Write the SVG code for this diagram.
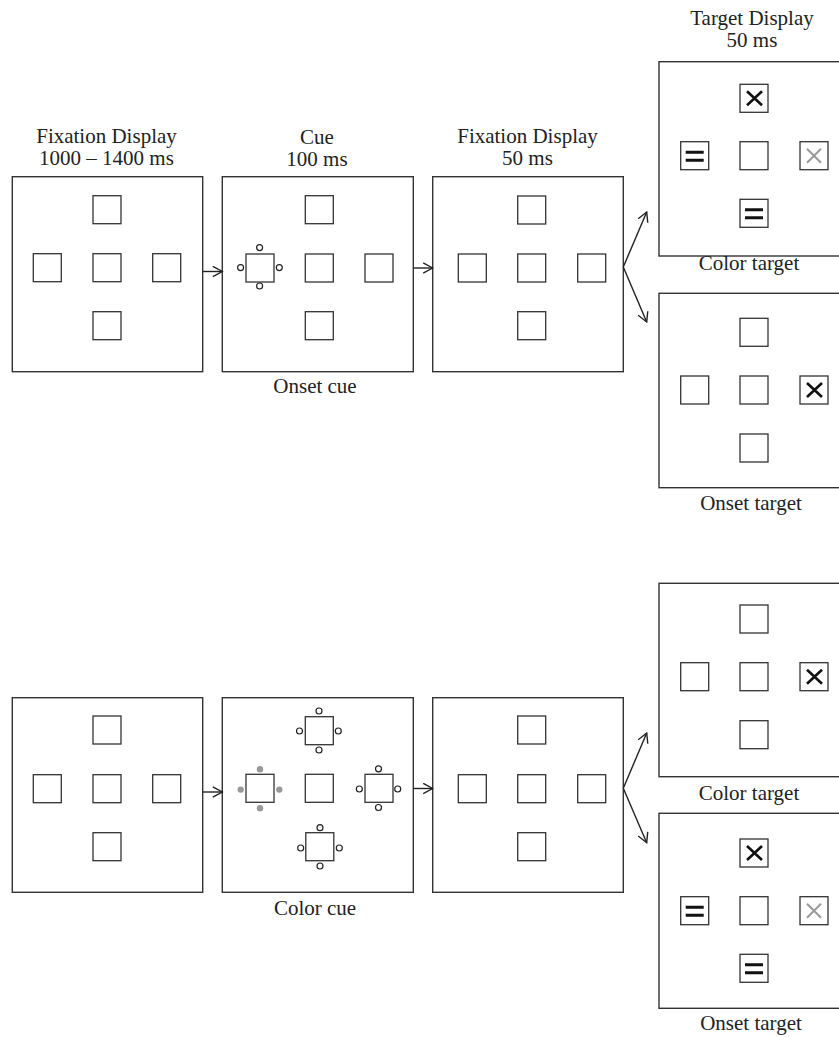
<svg xmlns="http://www.w3.org/2000/svg" width="839" height="1037" viewBox="0 0 839 1037">
<style>
.panel{fill:#fff;stroke:#333;stroke-width:1.4}
.sq{fill:#fff;stroke:#333;stroke-width:1.3}
.lbl{font-family:"Liberation Serif","Times New Roman",serif;font-size:21px;fill:#222;text-anchor:middle}
.oc{fill:#fff;stroke:#222;stroke-width:1.2}
.gd{fill:#999;stroke:none}
.xb{stroke:#111;stroke-width:2.6;fill:none}
.xg{stroke:#999;stroke-width:2;fill:none}
.eq{stroke:#111;stroke-width:3;fill:none}
.conn{stroke:#222;stroke-width:1.4;fill:none;marker-end:url(#ah)}
</style>
<defs>
<marker id="ah" markerUnits="userSpaceOnUse" markerWidth="12" markerHeight="12" viewBox="0 0 12 12" refX="10.5" refY="6" orient="auto">
<path d="M1,0.8 L10.5,6 L1,11.2" fill="none" stroke="#222" stroke-width="1.4"/>
</marker>
<rect id="s" class="sq" width="28" height="28"/>
<g id="xbk"><path class="xb" d="M7,7 L22,21 M22,7 L7,21"/></g>
<g id="xgr"><path class="xg" d="M7,7 L21,21 M21,7 L7,21"/></g>
<g id="eqm"><path class="eq" d="M5,10.5 H23 M5,18.5 H23"/></g>
</defs>

<!-- Top row -->
<g id="fix1-top">
<text class="lbl" x="106.5" y="143">Fixation Display</text>
<text class="lbl" x="106.5" y="165">1000 – 1400 ms</text>
<rect class="panel" x="12.3" y="176.7" width="190.4" height="195"/>
<use href="#s" x="93" y="195.7"/>
<use href="#s" x="33.3" y="253.7"/>
<use href="#s" x="93" y="253.7"/>
<use href="#s" x="152.7" y="253.7"/>
<use href="#s" x="93" y="311.7"/>
</g>

<g id="cue-top">
<text class="lbl" x="317" y="144">Cue</text>
<text class="lbl" x="317" y="166">100 ms</text>
<rect class="panel" x="222.3" y="176.7" width="191" height="195"/>
<use href="#s" x="305.3" y="195.7"/>
<use href="#s" x="246" y="254"/>
<use href="#s" x="305.3" y="254"/>
<use href="#s" x="365" y="254"/>
<use href="#s" x="305.3" y="311.7"/>
<circle class="oc" cx="259.6" cy="247.6" r="3"/>
<circle class="oc" cx="240.6" cy="267.6" r="3"/>
<circle class="oc" cx="279.3" cy="267.6" r="3"/>
<circle class="oc" cx="259.6" cy="286" r="3"/>
<text class="lbl" x="315" y="393">Onset cue</text>
</g>

<g id="fix2-top">
<text class="lbl" x="527.5" y="143">Fixation Display</text>
<text class="lbl" x="527.5" y="165">50 ms</text>
<rect class="panel" x="432.7" y="176.7" width="190.6" height="195"/>
<use href="#s" x="517.7" y="196"/>
<use href="#s" x="458.3" y="254"/>
<use href="#s" x="517.7" y="254"/>
<use href="#s" x="577.7" y="254"/>
<use href="#s" x="517.7" y="311.7"/>
</g>

<g id="target-color-top">
<text class="lbl" x="752" y="25">Target Display</text>
<text class="lbl" x="752" y="47">50 ms</text>
<rect class="panel" x="659" y="61.7" width="200" height="194.3"/>
<use href="#s" x="740" y="84.3"/>
<use href="#xbk" x="740" y="84.3"/>
<use href="#s" x="680.7" y="141.7"/>
<use href="#eqm" x="680.7" y="141.7"/>
<use href="#s" x="740" y="141.7"/>
<use href="#s" x="800" y="141.7"/>
<use href="#xgr" x="800" y="141.7"/>
<use href="#s" x="740" y="199.3"/>
<use href="#eqm" x="740" y="199.3"/>
<text class="lbl" x="749" y="270">Color target</text>
</g>

<g id="target-onset-top">
<rect class="panel" x="659" y="293.3" width="200" height="194.4"/>
<use href="#s" x="740" y="318.3"/>
<use href="#s" x="680.7" y="376"/>
<use href="#s" x="740" y="376"/>
<use href="#s" x="800" y="376"/>
<use href="#xbk" x="800" y="376"/>
<use href="#s" x="740" y="434"/>
<text class="lbl" x="751" y="510">Onset target</text>
</g>

<!-- Bottom row -->
<g id="fix1-bottom">
<rect class="panel" x="12.3" y="697.7" width="190.4" height="194.6"/>
<use href="#s" x="93" y="716"/>
<use href="#s" x="33.3" y="774.7"/>
<use href="#s" x="93" y="774.7"/>
<use href="#s" x="152.7" y="774.7"/>
<use href="#s" x="93" y="832.7"/>
</g>

<g id="cue-bottom">
<rect class="panel" x="222.3" y="697.7" width="191" height="194.6"/>
<use href="#s" x="305.3" y="716.7"/>
<use href="#s" x="246" y="774.3"/>
<use href="#s" x="305.3" y="774.3"/>
<use href="#s" x="365" y="774.3"/>
<use href="#s" x="305.8" y="832.7"/>
<circle class="oc" cx="319" cy="711" r="3"/>
<circle class="oc" cx="299.5" cy="731" r="3"/>
<circle class="oc" cx="338.3" cy="731" r="3"/>
<circle class="oc" cx="319" cy="750" r="3"/>
<circle class="gd" cx="260" cy="769.3" r="3.2"/>
<circle class="gd" cx="240.7" cy="789.6" r="3.2"/>
<circle class="gd" cx="279.3" cy="789.6" r="3.2"/>
<circle class="gd" cx="260" cy="808.3" r="3.2"/>
<circle class="oc" cx="378.5" cy="768.8" r="3"/>
<circle class="oc" cx="359.3" cy="789" r="3"/>
<circle class="oc" cx="397.7" cy="789" r="3"/>
<circle class="oc" cx="378.5" cy="807.5" r="3"/>
<circle class="oc" cx="320" cy="827.7" r="3"/>
<circle class="oc" cx="300.7" cy="848" r="3"/>
<circle class="oc" cx="339.3" cy="848" r="3"/>
<circle class="oc" cx="320" cy="866" r="3"/>
<text class="lbl" x="315" y="915">Color cue</text>
</g>

<g id="fix2-bottom">
<rect class="panel" x="432.7" y="697.7" width="190.6" height="194.6"/>
<use href="#s" x="517.7" y="716"/>
<use href="#s" x="458.3" y="774.7"/>
<use href="#s" x="517.7" y="774.7"/>
<use href="#s" x="577.7" y="774.7"/>
<use href="#s" x="517.7" y="832.7"/>
</g>

<g id="target-color-bottom">
<rect class="panel" x="659" y="583.3" width="200" height="193.4"/>
<use href="#s" x="740" y="605"/>
<use href="#s" x="680.7" y="662.7"/>
<use href="#s" x="740" y="662.7"/>
<use href="#s" x="800" y="662.7"/>
<use href="#xbk" x="800" y="662.7"/>
<use href="#s" x="740" y="720.7"/>
<text class="lbl" x="749" y="800">Color target</text>
</g>

<g id="target-onset-bottom">
<rect class="panel" x="659" y="813.3" width="200" height="195"/>
<use href="#s" x="740" y="839"/>
<use href="#xbk" x="740" y="839"/>
<use href="#s" x="680.7" y="896.7"/>
<use href="#eqm" x="680.7" y="896.7"/>
<use href="#s" x="740" y="896.7"/>
<use href="#s" x="800" y="896.7"/>
<use href="#xgr" x="800" y="896.7"/>
<use href="#s" x="740" y="954.3"/>
<use href="#eqm" x="740" y="954.3"/>
<text class="lbl" x="751" y="1030">Onset target</text>
</g>

<g id="connectors">
<path class="conn" d="M202.7,271.5 L222.3,271.5"/>
<path class="conn" d="M413.3,268 L432.7,268"/>
<path class="conn" d="M623.3,267 L646.7,212"/>
<path class="conn" d="M623.3,267 L646.7,322"/>
<path class="conn" d="M202.7,792 L222.3,792"/>
<path class="conn" d="M413.3,788.5 L432.7,788.5"/>
<path class="conn" d="M623.3,788.3 L646.7,733"/>
<path class="conn" d="M623.3,788.3 L646.7,842.7"/>
</g>
</svg>
